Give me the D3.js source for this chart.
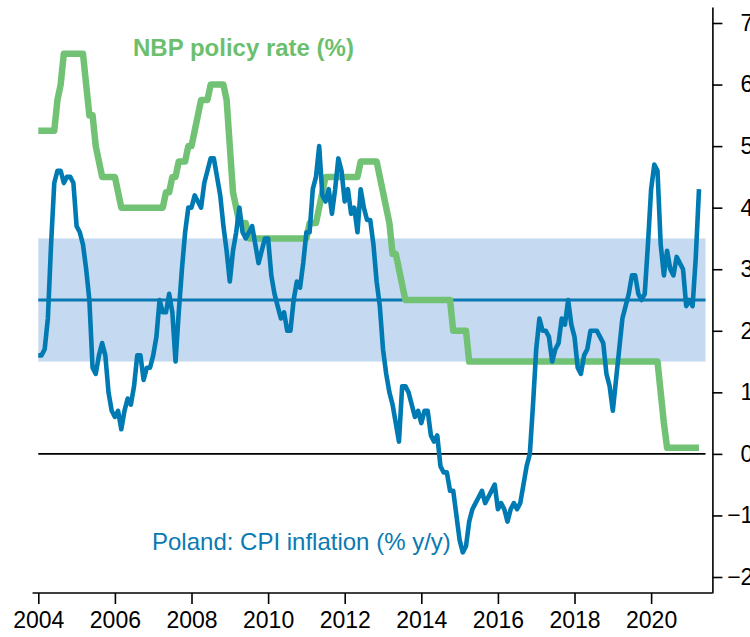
<!DOCTYPE html>
<html><head><meta charset="utf-8">
<script src="https://cdn.jsdelivr.net/npm/d3@7"></script>
<style>body{margin:0;background:#fff} svg{display:block}</style>
</head><body><svg id="chart" width="750" height="637"></svg>
<script>
// Monthly data, Jan 2004 .. Apr 2021
const startYear = 2004;
const cpi = [
  1.6,1.6,1.7,2.2,3.4,4.4,4.6,4.6,4.4,4.5,4.5,4.4,   // 2004
  3.7,3.6,3.4,3.0,2.5,1.4,1.3,1.6,1.8,1.6,1.0,0.7,   // 2005
  0.6,0.7,0.4,0.7,0.9,0.8,1.1,1.6,1.6,1.2,1.4,1.4,   // 2006
  1.6,1.9,2.5,2.3,2.3,2.6,2.3,1.5,2.3,3.0,3.6,4.0,   // 2007
  4.0,4.2,4.1,4.0,4.4,4.6,4.8,4.8,4.5,4.2,3.7,3.3,   // 2008
  2.8,3.3,3.6,4.0,3.6,3.5,3.6,3.7,3.4,3.1,3.3,3.5,   // 2009
  3.5,2.9,2.6,2.4,2.2,2.3,2.0,2.0,2.5,2.8,2.7,3.1,   // 2010
  3.6,3.6,4.3,4.5,5.0,4.2,4.1,4.3,3.9,4.3,4.8,4.6,   // 2011
  4.1,4.3,3.9,4.0,3.6,4.3,4.0,3.8,3.8,3.4,2.8,2.4,   // 2012
  1.7,1.3,1.0,0.8,0.5,0.2,1.1,1.1,1.0,0.8,0.6,0.7,   // 2013
  0.5,0.7,0.7,0.3,0.2,0.3,-0.2,-0.3,-0.3,-0.6,-0.6,-1.0, // 2014
  -1.4,-1.6,-1.5,-1.1,-0.9,-0.8,-0.7,-0.6,-0.8,-0.7,-0.6,-0.5, // 2015
  -0.9,-0.8,-0.9,-1.1,-0.9,-0.8,-0.9,-0.8,-0.5,-0.2,0.0,0.8, // 2016
  1.7,2.2,2.0,2.0,1.9,1.5,1.7,1.8,2.2,2.1,2.5,2.1,   // 2017
  1.9,1.4,1.3,1.6,1.7,2.0,2.0,2.0,1.9,1.8,1.3,1.1,   // 2018
  0.7,1.2,1.7,2.2,2.4,2.6,2.9,2.9,2.6,2.5,2.6,3.4,   // 2019
  4.3,4.7,4.6,3.4,2.9,3.3,3.0,2.9,3.2,3.1,3.0,2.4,   // 2020
  2.5,2.4,3.2,4.3                                    // 2021
];
const rate = [
  5.25,5.25,5.25,5.25,5.25,5.25,5.75,6.0,6.5,6.5,6.5,6.5,  // 2004
  6.5,6.5,6.5,6.0,5.5,5.5,5.0,4.75,4.5,4.5,4.5,4.5,        // 2005
  4.5,4.25,4.0,4.0,4.0,4.0,4.0,4.0,4.0,4.0,4.0,4.0,        // 2006
  4.0,4.0,4.0,4.0,4.25,4.25,4.5,4.5,4.75,4.75,4.75,5.0,    // 2007
  5.0,5.25,5.5,5.75,5.75,5.75,6.0,6.0,6.0,6.0,6.0,5.75,    // 2008
  5.0,4.25,4.0,3.75,3.75,3.75,3.5,3.5,3.5,3.5,3.5,3.5,     // 2009
  3.5,3.5,3.5,3.5,3.5,3.5,3.5,3.5,3.5,3.5,3.5,3.5,         // 2010
  3.5,3.75,3.75,3.75,4.0,4.25,4.5,4.5,4.5,4.5,4.5,4.5,     // 2011
  4.5,4.5,4.5,4.5,4.5,4.75,4.75,4.75,4.75,4.75,4.75,4.5,   // 2012
  4.25,4.0,3.75,3.25,3.25,3.0,2.75,2.5,2.5,2.5,2.5,2.5,    // 2013
  2.5,2.5,2.5,2.5,2.5,2.5,2.5,2.5,2.5,2.5,2.0,2.0,         // 2014
  2.0,2.0,2.0,1.5,1.5,1.5,1.5,1.5,1.5,1.5,1.5,1.5,         // 2015
  1.5,1.5,1.5,1.5,1.5,1.5,1.5,1.5,1.5,1.5,1.5,1.5,         // 2016
  1.5,1.5,1.5,1.5,1.5,1.5,1.5,1.5,1.5,1.5,1.5,1.5,         // 2017
  1.5,1.5,1.5,1.5,1.5,1.5,1.5,1.5,1.5,1.5,1.5,1.5,         // 2018
  1.5,1.5,1.5,1.5,1.5,1.5,1.5,1.5,1.5,1.5,1.5,1.5,         // 2019
  1.5,1.5,1.5,1.0,0.5,0.1,0.1,0.1,0.1,0.1,0.1,0.1,         // 2020
  0.1,0.1,0.1,0.1                                          // 2021
];
const targetBand = [1.5, 3.5];
const targetValue = 2.5;
const bandEnd = 2021.42;
const xTickYears = [2004,2006,2008,2010,2012,2014,2016,2018,2020];
const yTickValues = [-2,-1,0,1,2,3,4,5,6,7];
const rateLabel = "NBP policy rate (%)";
const cpiLabel = "Poland: CPI inflation (% y/y)";

const svg = d3.select("#chart");
const x = d3.scaleLinear().domain([2004, 2021.6]).range([38.3, 712.4]);
const y = d3.scaleLinear().domain([-2.26, 7.26]).range([593, 7]);
const t = i => startYear + i / 12;
const FONT = "'Liberation Sans', Arial, sans-serif";

// target band
svg.append("rect")
  .attr("x", x(2004)).attr("width", x(bandEnd) - x(2004))
  .attr("y", y(targetBand[1])).attr("height", y(targetBand[0]) - y(targetBand[1]))
  .attr("fill", "#c5d9f0");

// zero line
svg.append("line")
  .attr("x1", x(2004)).attr("x2", x(bandEnd))
  .attr("y1", y(0)).attr("y2", y(0))
  .attr("stroke", "#000").attr("stroke-width", 1.6);

// target line
svg.append("line")
  .attr("x1", x(2004)).attr("x2", x(bandEnd))
  .attr("y1", y(targetValue)).attr("y2", y(targetValue))
  .attr("stroke", "#0a78b2").attr("stroke-width", 3);

const line = d3.line().x((d, i) => x(t(i))).y(d => y(d));

svg.append("path").datum(rate)
  .attr("d", line).attr("fill", "none")
  .attr("stroke", "#72c275").attr("stroke-width", 6.5)
  .attr("stroke-linejoin", "round");

svg.append("path").datum(cpi)
  .attr("d", line).attr("fill", "none")
  .attr("stroke", "#007ab2").attr("stroke-width", 4.6)
  .attr("stroke-linejoin", "round");

// axes
const xAxis = d3.axisBottom(x).tickValues(xTickYears).tickFormat(d3.format("d"))
  .tickSize(11).tickSizeOuter(0).tickPadding(8);
const gx = svg.append("g").attr("transform", `translate(0,${y.range()[0]})`).call(xAxis);
gx.select(".domain").attr("d", `M${x(2003.85)},0H${x.range()[1]}`).attr("stroke", "#000").attr("stroke-width", 1.6);
gx.selectAll(".tick line").attr("stroke", "#000").attr("stroke-width", 1.6);
gx.selectAll("text").attr("font-family", FONT).attr("font-size", 23).attr("fill", "#000");

const yAxis = d3.axisRight(y).tickValues(yTickValues).tickSize(10).tickSizeOuter(0).tickPadding(18);
const gy = svg.append("g").attr("transform", `translate(${x.range()[1]},0)`).call(yAxis);
gy.select(".domain").attr("stroke", "#000").attr("stroke-width", 1.6);
gy.selectAll(".tick line").attr("stroke", "#000").attr("stroke-width", 1.6);
gy.selectAll("text").attr("font-family", FONT).attr("font-size", 23).attr("fill", "#000")
  .attr("text-anchor", "end").attr("x", 41);

// labels
svg.append("text").attr("x", 133).attr("y", 56).text(rateLabel)
  .attr("font-family", FONT).attr("font-weight", "bold").attr("font-size", 24)
  .attr("fill", "#6cbf6f");
svg.append("text").attr("x", 152).attr("y", 550).text(cpiLabel)
  .attr("font-family", FONT).attr("font-size", 24)
  .attr("fill", "#0a7ab2");
</script>
</body></html>
